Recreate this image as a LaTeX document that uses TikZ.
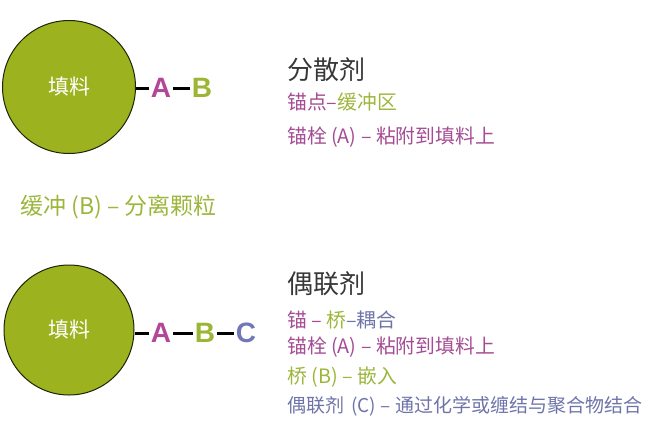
\documentclass[tikz,border=0pt]{standalone}
\usepackage{fontspec}
\setmainfont{Noto Sans CJK SC}
\newfontfamily\latb{Liberation Sans}
\definecolor{fillgreen}{RGB}{156,178,30}
\definecolor{cmag}{RGB}{178,70,152}
\definecolor{cgreen}{RGB}{155,182,52}
\definecolor{cblue}{RGB}{112,120,184}
\definecolor{tmag}{RGB}{165,76,148}
\definecolor{tgreen}{RGB}{156,182,60}
\definecolor{tblue}{RGB}{110,116,170}
\definecolor{ttitle}{RGB}{55,55,55}
\begin{document}
\begin{tikzpicture}[x=1pt,y=-1pt,
  filler/.style={circle, draw=black!80!fillgreen, line width=1pt, fill=fillgreen, inner sep=0pt, text=white, font=\fontsize{21}{21}\selectfont},
  letter/.style={inner sep=1.5pt, font=\latb\bfseries\fontsize{28}{28}\selectfont},
  link/.style={line width=3pt, black},
  title/.style={anchor=west, inner sep=0pt, text=ttitle, font=\fontsize{26}{26}\selectfont},
  line/.style={anchor=west, inner sep=0pt, font=\fontsize{19.8}{19.8}\selectfont}]
\useasboundingbox (0,0) rectangle (650,432);
% top
\node[filler, minimum size=133pt] (f1) at (69,87) {填料};
\node[letter, text=cmag] (a1) at (161,88) {A};
\node[letter, text=cgreen] (b1) at (202,88) {B};
\draw[link] (f1.east |- a1) -- (a1.west);
\draw[link] (a1.east) -- (b1.west);
\node[title] (t1) at (287,70) {分散剂};
\node[line] (l11) at (287,102) {\textcolor{tmag}{锚点–}\textcolor{tgreen}{缓冲区}};
\node[line, text=tmag] (l12) at (287,137) {锚栓 (A) – 粘附到填料上};
\node[line, text=tgreen, font=\fontsize{23}{23}\selectfont] (l13) at (20,207) {缓冲 (B) – 分离颗粒};
% bottom
\node[filler, minimum size=130pt] (f2) at (69,330) {填料};
\node[letter, text=cmag] (a2) at (161,333) {A};
\node[letter, text=cgreen] (b2) at (205,333) {B};
\node[letter, text=cblue] (c2) at (246,333) {C};
\draw[link] (f2.east |- a2) -- (a2.west);
\draw[link] (a2.east) -- (b2.west);
\draw[link] (b2.east) -- (c2.west);
\node[title] (t2) at (287,284) {偶联剂};
\node[line] (l21) at (287,320) {\textcolor{tmag}{锚 – }\textcolor{tgreen}{桥}\textcolor{tblue}{–耦合}};
\node[line, text=tmag] (l22) at (287,347) {锚栓 (A) – 粘附到填料上};
\node[line, text=tgreen] (l23) at (287,377) {桥 (B) – 嵌入};
\node[line, text=tblue, font=\fontsize{19}{19}\selectfont] (l24) at (287,406) {偶联剂\hspace{3pt} (C) – 通过化学或缠结与聚合物结合};
\end{tikzpicture}
\end{document}
